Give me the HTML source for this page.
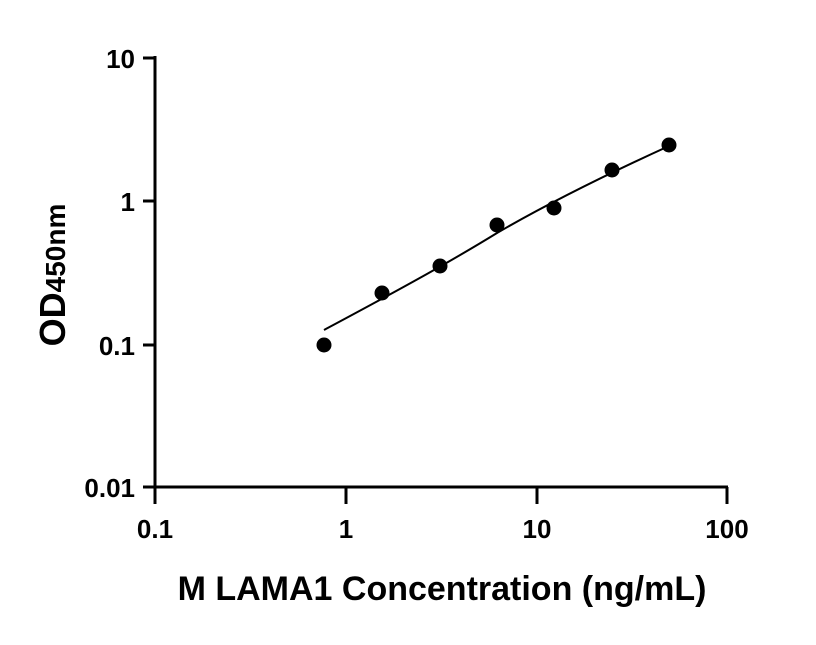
<!DOCTYPE html>
<html><head><style>body{margin:0;background:#fff}</style></head><body>
<svg width="816" height="640" xmlns="http://www.w3.org/2000/svg" font-family="Liberation Sans, sans-serif" font-weight="bold">
<g stroke="#000" stroke-width="3" fill="none">
<line x1="155" y1="56" x2="155" y2="504"/>
<line x1="155" y1="487" x2="728" y2="487"/>
<line x1="143" y1="58" x2="155" y2="58"/>
<line x1="143" y1="201" x2="155" y2="201"/>
<line x1="143" y1="345" x2="155" y2="345"/>
<line x1="143" y1="487" x2="155" y2="487"/>
<line x1="346" y1="487" x2="346" y2="504"/>
<line x1="537" y1="487" x2="537" y2="504"/>
<line x1="727" y1="487" x2="727" y2="504"/>
</g>
<path d="M324,330 C380,300 440,268 497,233 C554,200 612,172 669,146" stroke="#000" stroke-width="2" fill="none"/>
<g fill="#000">
<circle cx="324" cy="345" r="7.5"/><circle cx="382" cy="293" r="7.5"/><circle cx="440" cy="266" r="7.5"/><circle cx="497" cy="225" r="7.5"/><circle cx="554" cy="208" r="7.5"/><circle cx="612" cy="170" r="7.5"/><circle cx="669" cy="145" r="7.5"/>
</g>
<g font-size="26" text-anchor="end">
<text x="135" y="68">10</text><text x="135" y="211">1</text><text x="135" y="355">0.1</text><text x="135" y="497">0.01</text>
</g>
<g font-size="26" text-anchor="middle">
<text x="155" y="538">0.1</text><text x="346" y="538">1</text><text x="537" y="538">10</text><text x="727" y="538">100</text>
</g>
<text x="442" y="600" font-size="34" text-anchor="middle">M LAMA1 Concentration (ng/mL)</text>
<text transform="translate(65,275) rotate(-90)" font-size="36" text-anchor="middle">OD<tspan font-size="28">450nm</tspan></text>
</svg>
</body></html>
